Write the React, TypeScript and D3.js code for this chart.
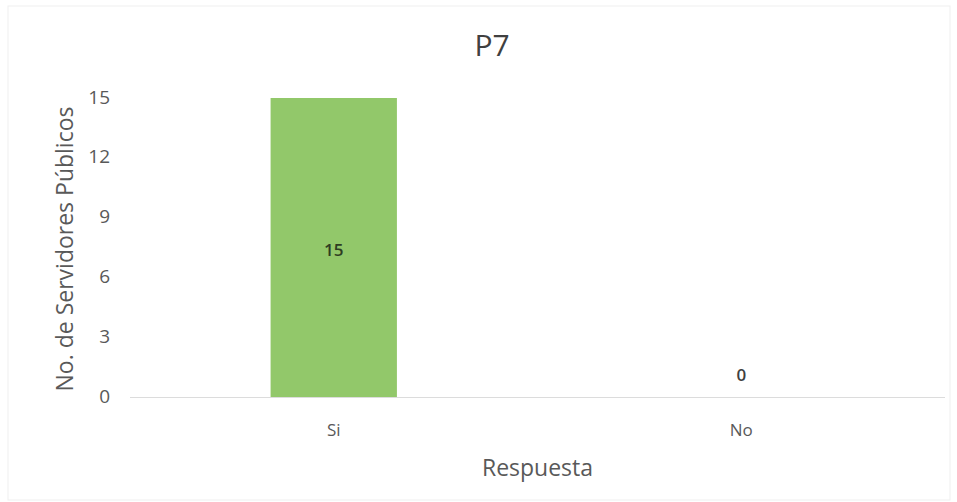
import React from "react";
import * as d3 from "d3";

const categories = ["Si", "No"];
const values = [15, 0];
const yTicks = [0, 3, 6, 9, 12, 15];

const W = 957;
const H = 502;
const plot = { left: 130, right: 945, top: 98, bottom: 397 };
const font = "'Open Sans', 'Noto Sans', sans-serif";

export default function App() {
  const x = d3
    .scaleBand<string>()
    .domain(categories)
    .range([plot.left, plot.right])
    .paddingInner(0.69)
    .paddingOuter(0.345);
  const y = d3.scaleLinear().domain([0, 15]).range([plot.bottom, plot.top]);

  return (
    <svg
      width={W}
      height={H}
      style={{ position: "absolute", left: 0, top: 0, background: "#fff" }}
    >
      <rect x={8} y={6} width={942} height={494} fill="#fff" stroke="#efefef" />
      <text x={492} y={56} textAnchor="middle" fontFamily={font} fontSize={30} fill="#404040">
        P7
      </text>
      {yTicks.map((t) => (
        <text
          key={t}
          x={110}
          y={y(t) - 1}
          dy="0.35em"
          textAnchor="end"
          fontFamily={font}
          fontSize={19}
          fill="#595959"
        >
          {t}
        </text>
      ))}
      <text
        transform={`translate(73,249) rotate(-90)`}
        textAnchor="middle"
        fontFamily={font}
        fontSize={23}
        fill="#595959"
      >
        No. de Servidores Públicos
      </text>
      {categories.map((c, i) => (
        <g key={c}>
          <rect
            x={x(c)}
            y={y(values[i])}
            width={x.bandwidth()}
            height={plot.bottom - y(values[i])}
            fill="#92c86a"
          />
          <text
            x={(x(c) as number) + x.bandwidth() / 2}
            y={values[i] > 0 ? y(values[i] / 2) + 3 : y(0) - 22}
            dy="0.35em"
            textAnchor="middle"
            fontFamily={font}
            fontSize={17}
            fontWeight={600}
            fill={values[i] > 0 ? "#2e3d22" : "#404040"}
          >
            {values[i]}
          </text>
          <text
            x={(x(c) as number) + x.bandwidth() / 2}
            y={436}
            textAnchor="middle"
            fontFamily={font}
            fontSize={17}
            fill="#595959"
          >
            {c}
          </text>
        </g>
      ))}
      <line x1={plot.left} x2={plot.right} y1={plot.bottom + 0.5} y2={plot.bottom + 0.5} stroke="#dcdcdc" />
      <text
        x={(plot.left + plot.right) / 2}
        y={476}
        textAnchor="middle"
        fontFamily={font}
        fontSize={23}
        fill="#595959"
      >
        Respuesta
      </text>
    </svg>
  );
}
